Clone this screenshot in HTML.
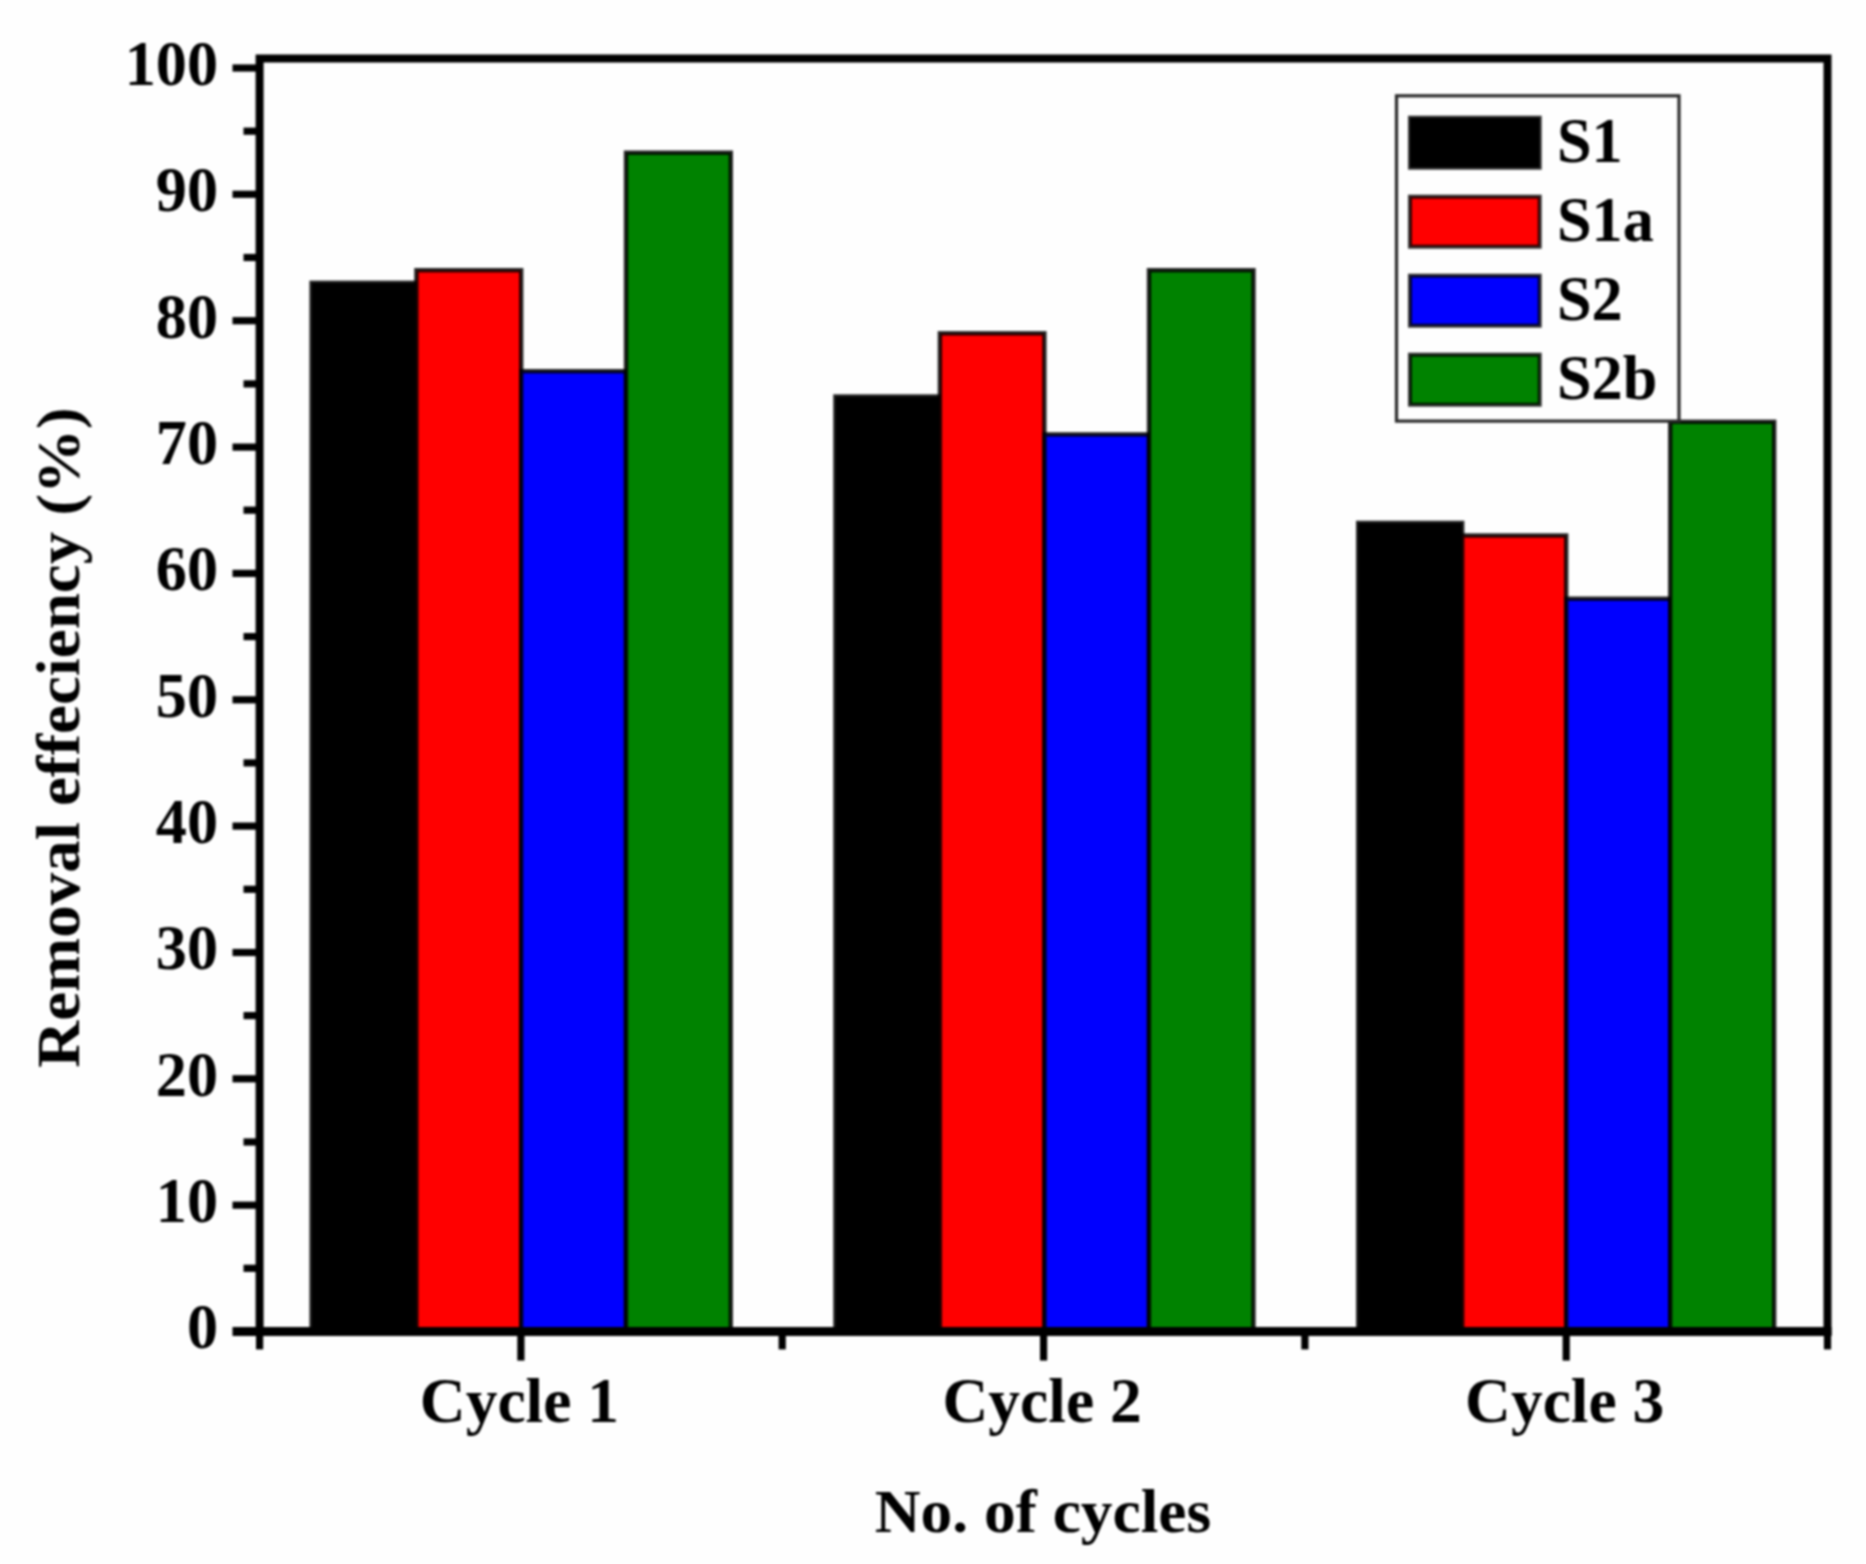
<!DOCTYPE html>
<html lang="en"><head><meta charset="utf-8"><title>Removal efficiency vs. No. of cycles</title>
<style>html,body{margin:0;padding:0;background:#fefefe}body{width:1866px;height:1564px;overflow:hidden}svg{display:block}text{font-family:"Liberation Serif","Times New Roman",serif;font-weight:bold;fill:#000}</style></head><body>
<svg width="1866" height="1564" viewBox="0 0 1866 1564">
<defs><filter id="soft" x="0" y="0" width="1866" height="1564" filterUnits="userSpaceOnUse" color-interpolation-filters="sRGB"><feGaussianBlur stdDeviation="1.00"/></filter></defs>
<rect width="1866" height="1564" fill="#fefefe"/>
<g filter="url(#soft)">
<rect width="1866" height="1564" fill="#fefefe"/>
<g stroke="#000" stroke-opacity="0.85" stroke-width="4.4">
<rect x="311.6" y="282.8" width="104.8" height="1048.7" fill="#000000"/>
<rect x="416.4" y="270.2" width="104.8" height="1061.3" fill="#ff0000"/>
<rect x="521.2" y="371.2" width="104.8" height="960.3" fill="#0000ff"/>
<rect x="626.0" y="152.7" width="104.8" height="1178.8" fill="#008200"/>
<rect x="835.4" y="396.5" width="104.5" height="935.0" fill="#000000"/>
<rect x="939.9" y="333.3" width="104.5" height="998.2" fill="#ff0000"/>
<rect x="1044.5" y="434.4" width="104.5" height="897.1" fill="#0000ff"/>
<rect x="1149.0" y="270.2" width="104.5" height="1061.3" fill="#008200"/>
<rect x="1358.2" y="522.9" width="104.0" height="808.6" fill="#000000"/>
<rect x="1462.2" y="535.5" width="104.0" height="796.0" fill="#ff0000"/>
<rect x="1566.2" y="598.7" width="104.0" height="732.8" fill="#0000ff"/>
<rect x="1670.2" y="421.8" width="104.0" height="909.7" fill="#008200"/>
</g>
<g stroke="#000" stroke-width="7.2">
<line x1="232.5" y1="1331.5" x2="259.6" y2="1331.5" stroke-width="9"/>
<line x1="243.5" y1="1268.3" x2="259.6" y2="1268.3"/>
<line x1="232.5" y1="1205.2" x2="259.6" y2="1205.2"/>
<line x1="243.5" y1="1142.0" x2="259.6" y2="1142.0"/>
<line x1="232.5" y1="1078.8" x2="259.6" y2="1078.8"/>
<line x1="243.5" y1="1015.6" x2="259.6" y2="1015.6"/>
<line x1="232.5" y1="952.5" x2="259.6" y2="952.5"/>
<line x1="243.5" y1="889.3" x2="259.6" y2="889.3"/>
<line x1="232.5" y1="826.1" x2="259.6" y2="826.1"/>
<line x1="243.5" y1="762.9" x2="259.6" y2="762.9"/>
<line x1="232.5" y1="699.8" x2="259.6" y2="699.8"/>
<line x1="243.5" y1="636.6" x2="259.6" y2="636.6"/>
<line x1="232.5" y1="573.4" x2="259.6" y2="573.4"/>
<line x1="243.5" y1="510.2" x2="259.6" y2="510.2"/>
<line x1="232.5" y1="447.1" x2="259.6" y2="447.1"/>
<line x1="243.5" y1="383.9" x2="259.6" y2="383.9"/>
<line x1="232.5" y1="320.7" x2="259.6" y2="320.7"/>
<line x1="243.5" y1="257.5" x2="259.6" y2="257.5"/>
<line x1="232.5" y1="194.3" x2="259.6" y2="194.3"/>
<line x1="243.5" y1="131.2" x2="259.6" y2="131.2"/>
<line x1="232.5" y1="68.0" x2="259.6" y2="68.0"/>
<line x1="259.6" y1="1331.5" x2="259.6" y2="1349.4"/>
<line x1="520.9" y1="1331.5" x2="520.9" y2="1360.6"/>
<line x1="782.2" y1="1331.5" x2="782.2" y2="1349.4"/>
<line x1="1043.6" y1="1331.5" x2="1043.6" y2="1360.6"/>
<line x1="1304.9" y1="1331.5" x2="1304.9" y2="1349.4"/>
<line x1="1566.2" y1="1331.5" x2="1566.2" y2="1360.6"/>
<line x1="1827.5" y1="1331.5" x2="1827.5" y2="1349.4"/>
</g>
<rect x="259.6" y="58.5" width="1567.9" height="1273.0" fill="none" stroke="#000" stroke-width="8.0"/>
<line x1="255.6" y1="1331.5" x2="1831.5" y2="1331.5" stroke="#000" stroke-width="9"/>
<text transform="translate(218.0,1348.3) scale(0.980,1)" font-size="63.5" text-anchor="end">0</text>
<text transform="translate(218.0,1222.0) scale(0.980,1)" font-size="63.5" text-anchor="end">10</text>
<text transform="translate(218.0,1095.6) scale(0.980,1)" font-size="63.5" text-anchor="end">20</text>
<text transform="translate(218.0,969.2) scale(0.980,1)" font-size="63.5" text-anchor="end">30</text>
<text transform="translate(218.0,842.9) scale(0.980,1)" font-size="63.5" text-anchor="end">40</text>
<text transform="translate(218.0,716.5) scale(0.980,1)" font-size="63.5" text-anchor="end">50</text>
<text transform="translate(218.0,590.2) scale(0.980,1)" font-size="63.5" text-anchor="end">60</text>
<text transform="translate(218.0,463.9) scale(0.980,1)" font-size="63.5" text-anchor="end">70</text>
<text transform="translate(218.0,337.5) scale(0.980,1)" font-size="63.5" text-anchor="end">80</text>
<text transform="translate(218.0,211.1) scale(0.980,1)" font-size="63.5" text-anchor="end">90</text>
<text transform="translate(218.0,84.8) scale(0.980,1)" font-size="63.5" text-anchor="end">100</text>
<text transform="translate(519.4,1422.0)" font-size="63.5" text-anchor="middle">Cycle 1</text>
<text transform="translate(1042.1,1422.0)" font-size="63.5" text-anchor="middle">Cycle 2</text>
<text transform="translate(1564.7,1422.0)" font-size="63.5" text-anchor="middle">Cycle 3</text>
<text transform="translate(1043.0,1531.5) scale(1.040,1)" font-size="61.0" text-anchor="middle">No. of cycles</text>
<text transform="translate(79.0,737.5) rotate(-90) scale(1.057,1)" font-size="61.5" text-anchor="middle">Removal effeciency (%)</text>
<rect x="1396.5" y="95.8" width="282.5" height="325.3" fill="#fefefe" stroke="#2a2a2a" stroke-width="3.2"/>
<g stroke="#000" stroke-opacity="0.8" stroke-width="4">
<rect x="1410" y="117.7" width="129.7" height="50" fill="#000000"/>
<rect x="1410" y="196.7" width="129.7" height="50" fill="#ff0000"/>
<rect x="1410" y="275.7" width="129.7" height="50" fill="#0000ff"/>
<rect x="1410" y="354.7" width="129.7" height="50" fill="#008200"/>
</g>
<text transform="translate(1557.0,161.5) scale(0.980,1)" font-size="63.5" text-anchor="start">S1</text>
<text transform="translate(1557.0,240.5) scale(0.980,1)" font-size="63.5" text-anchor="start">S1a</text>
<text transform="translate(1557.0,319.5) scale(0.980,1)" font-size="63.5" text-anchor="start">S2</text>
<text transform="translate(1557.0,398.5) scale(0.980,1)" font-size="63.5" text-anchor="start">S2b</text>
</g>
</svg></body></html>
